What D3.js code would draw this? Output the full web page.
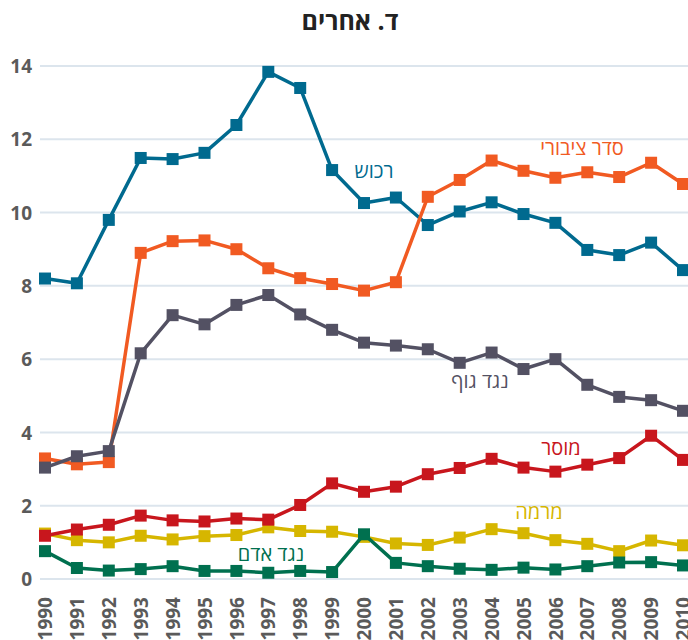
<!DOCTYPE html>
<html>
<head>
<meta charset="utf-8">
<script src="https://cdn.jsdelivr.net/npm/d3@7"></script>
<style>
  body { margin: 0; background: #fff; }
  text { font-family: "Open Sans", "Liberation Sans", "DejaVu Sans", sans-serif; }
</style>
</head>
<body>
<div id="chart"></div>
<script>
const years = d3.range(1990, 2011);
const yTicks = [0, 2, 4, 6, 8, 10, 12, 14];

const rechush = [8.2, 8.07, 9.8, 11.49, 11.46, 11.63, 12.39, 13.84, 13.4, 11.16, 10.26, 10.41, 9.66, 10.03, 10.28, 9.96, 9.72, 8.98, 8.84, 9.18, 8.43];
const seder = [3.29, 3.13, 3.19, 8.9, 9.22, 9.24, 9.0, 8.48, 8.21, 8.05, 7.87, 8.1, 10.43, 10.89, 11.42, 11.14, 10.95, 11.1, 10.97, 11.36, 10.78];
const guf = [3.04, 3.35, 3.49, 6.16, 7.2, 6.95, 7.48, 7.75, 7.22, 6.8, 6.45, 6.37, 6.27, 5.9, 6.18, 5.73, 6.0, 5.3, 4.97, 4.88, 4.59];
const mirma = [1.24, 1.06, 1.0, 1.18, 1.08, 1.17, 1.2, 1.41, 1.31, 1.29, 1.15, 0.97, 0.93, 1.13, 1.36, 1.25, 1.06, 0.96, 0.76, 1.05, 0.92];
const musar = [1.18, 1.35, 1.48, 1.73, 1.6, 1.57, 1.65, 1.62, 2.02, 2.61, 2.38, 2.52, 2.86, 3.03, 3.28, 3.04, 2.93, 3.12, 3.3, 3.91, 3.25];
const adam = [0.76, 0.3, 0.23, 0.27, 0.35, 0.22, 0.22, 0.17, 0.22, 0.19, 1.22, 0.44, 0.35, 0.28, 0.25, 0.31, 0.26, 0.35, 0.45, 0.46, 0.37];

// draw order matters: later series sit on top
const series = [
  { name: "רכוש", values: rechush, color: "#006a8f", lx: 374, ly: 171 },
  { name: "סדר ציבורי", values: seder, color: "#f15a22", lx: 582, ly: 148 },
  { name: "נגד גוף", values: guf, color: "#535163", lx: 480, ly: 381 },
  { name: "מרמה", values: mirma, color: "#d6b600", lx: 539, ly: 512 },
  { name: "מוסר", values: musar, color: "#c8161d", lx: 561, ly: 448 },
  { name: "נגד אדם", values: adam, color: "#00704f", lx: 271, ly: 554 }
];

const width = 688, height = 640;

const svg = d3.select("#chart")
  .append("svg")
  .attr("width", width)
  .attr("height", height);

const x = d3.scaleLinear().domain([1990, 2010]).range([45, 683]);
const y = d3.scaleLinear().domain([0, 14]).range([579, 66]);

// title
svg.append("text")
  .attr("x", 350)
  .attr("y", 30)
  .attr("text-anchor", "middle")
  .style("font-size", "25px")
  .style("font-weight", "bold")
  .style("fill", "#222")
  .text("ד. אחרים");

// grid
svg.append("g")
  .selectAll("line")
  .data(yTicks)
  .enter()
  .append("line")
  .attr("x1", 40)
  .attr("x2", width)
  .attr("y1", (d) => y(d))
  .attr("y2", (d) => y(d))
  .attr("stroke", "#dce5ed")
  .attr("stroke-width", 2);

// y axis
const yAxis = d3.axisLeft(y).tickValues(yTicks).tickSize(0).tickPadding(0);
const gy = svg.append("g")
  .attr("transform", "translate(32,0)")
  .call(yAxis);
gy.select(".domain").remove();
gy.selectAll("text")
  .attr("dy", "0.35em")
  .style("font-size", "19px")
  .style("font-weight", "bold")
  .style("fill", "#5a5a5a");

// x axis
const xAxis = d3.axisBottom(x).tickValues(years).tickFormat(d3.format("d")).tickSize(0);
const gx = svg.append("g")
  .attr("transform", "translate(0,597)")
  .call(xAxis);
gx.select(".domain").remove();
gx.selectAll("text")
  .attr("transform", "rotate(-90)")
  .attr("x", 0)
  .attr("y", 0)
  .attr("dy", "0.35em")
  .style("text-anchor", "end")
  .style("font-size", "19px")
  .style("font-weight", "bold")
  .style("fill", "#5a5a5a");

const line = d3.line()
  .x((d, i) => x(years[i]))
  .y((d) => y(d));

const sq = 12;

series.forEach((s) => {
  const g = svg.append("g");
  g.append("path")
    .datum(s.values)
    .attr("fill", "none")
    .attr("stroke", s.color)
    .attr("stroke-width", 3.5)
    .attr("stroke-linejoin", "round")
    .attr("d", line);
  g.selectAll("rect")
    .data(s.values)
    .enter()
    .append("rect")
    .attr("x", (d, i) => x(years[i]) - sq / 2)
    .attr("y", (d) => y(d) - sq / 2)
    .attr("width", sq)
    .attr("height", sq)
    .attr("fill", s.color);
});

// series labels
svg.append("g")
  .selectAll("text")
  .data(series)
  .enter()
  .append("text")
  .attr("x", (d) => d.lx)
  .attr("y", (d) => d.ly)
  .attr("dy", "0.35em")
  .attr("text-anchor", "middle")
  .style("font-size", "20px")
  .style("fill", (d) => d.color)
  .text((d) => d.name);
</script>
</body>
</html>
